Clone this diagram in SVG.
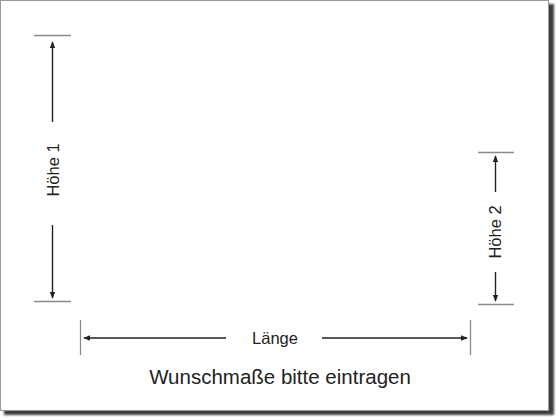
<svg xmlns="http://www.w3.org/2000/svg" width="560" height="420" viewBox="0 0 560 420">
  <style>
    .tick { stroke: #8a8a8a; stroke-width: 1.3; fill: none; }
    .dim { stroke: #222; stroke-width: 1.4; fill: none; }
    .lbl { font-family: "Liberation Sans", Arial, sans-serif; font-size: 16.5px; fill: #222; text-anchor: middle; }
    .title { font-family: "Liberation Sans", Arial, sans-serif; font-size: 20.5px; fill: #222; text-anchor: middle; }
  </style>
  <defs>
    <filter id="blur" x="-5%" y="-5%" width="110%" height="110%">
      <feGaussianBlur stdDeviation="1.2"/>
    </filter>
    <marker id="ah" viewBox="0 0 10 10" refX="9" refY="5" markerWidth="7" markerHeight="7" markerUnits="userSpaceOnUse" orient="auto">
      <path d="M0,1 L10,5 L0,9 Z" fill="#222"/>
    </marker>
  </defs>
  <rect x="0" y="0" width="560" height="420" fill="#ffffff"/>
  <rect x="4" y="4" width="550" height="411" fill="#3e3e3e" filter="url(#blur)"/>
  <rect x="0.5" y="0.5" width="548" height="410" fill="#ffffff" stroke="#9a9a9a" stroke-width="1"/>

  <g id="hoehe1">
    <line class="tick" x1="34" y1="35.5" x2="71" y2="35.5"/>
    <line class="tick" x1="34" y1="301.5" x2="71" y2="301.5"/>
    <text class="lbl" transform="translate(59,170) rotate(-90)">Höhe 1</text>
  </g>
  <g id="hoehe2">
    <line class="tick" x1="478" y1="152.5" x2="514" y2="152.5"/>
    <line class="tick" x1="478" y1="304.5" x2="514" y2="304.5"/>
    <text class="lbl" transform="translate(501,232) rotate(-90)">Höhe 2</text>
  </g>
  <g id="laenge">
    <line class="tick" x1="80.5" y1="320" x2="80.5" y2="355"/>
    <line class="tick" x1="470.5" y1="320" x2="470.5" y2="355"/>
    <text class="lbl" x="275" y="344">Länge</text>
  </g>
  <g id="titel">
    <text class="title" x="280" y="384">Wunschmaße bitte eintragen</text>
  </g>

  <g id="connectors">
    <line class="dim" x1="52.5" y1="122" x2="52.5" y2="42" marker-end="url(#ah)"/>
    <line class="dim" x1="52.5" y1="225" x2="52.5" y2="298" marker-end="url(#ah)"/>
    <line class="dim" x1="495.5" y1="192" x2="495.5" y2="156" marker-end="url(#ah)"/>
    <line class="dim" x1="495.5" y1="272" x2="495.5" y2="301" marker-end="url(#ah)"/>
    <line class="dim" x1="226" y1="338" x2="84" y2="338" marker-end="url(#ah)"/>
    <line class="dim" x1="322" y1="338" x2="467" y2="338" marker-end="url(#ah)"/>
  </g>
</svg>
